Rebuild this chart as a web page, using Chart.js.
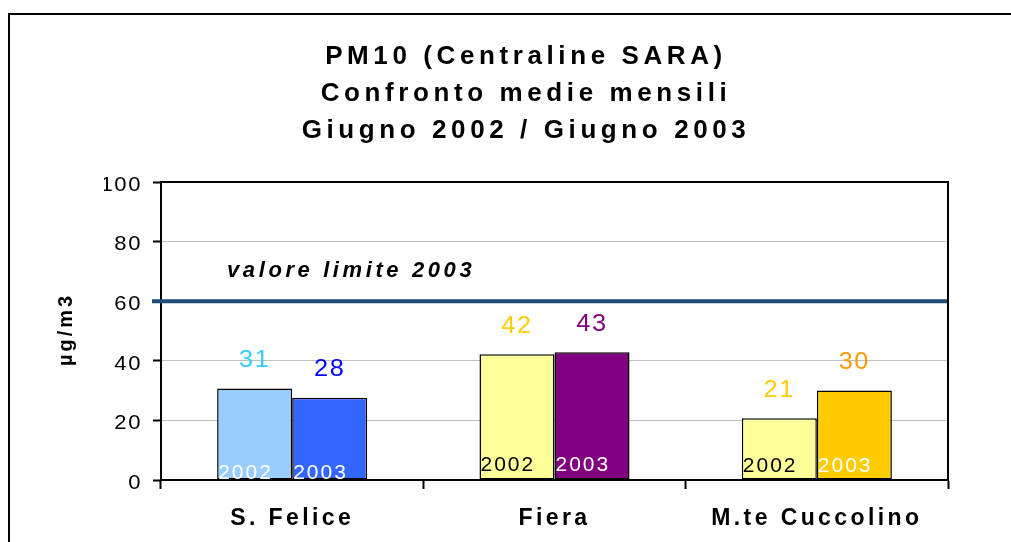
<!DOCTYPE html>
<html>
<head>
<meta charset="utf-8">
<title>PM10 Centraline SARA</title>
<script src="https://cdn.jsdelivr.net/npm/chart.js@4.4.0/dist/chart.umd.min.js"></script>
<style>
  body { margin: 0; background: #fff; }
  #box { width: 1011px; height: 542px; }
</style>
</head>
<body>
<div id="box"><canvas id="pm10" width="1011" height="542"></canvas></div>
<script>
// values
var categories = ['S. Felice', 'Fiera', 'M.te Cuccolino'];
var years = ['2002', '2003'];
var values2002 = [30.7, 42.2, 20.7];
var values2003 = [27.6, 42.9, 30.0];
var limitValue = 60;
var limitLabel = 'valore limite 2003';
var chartTitle = ['PM10 (Centraline SARA)', 'Confronto medie mensili', 'Giugno 2002 / Giugno 2003'];
var yLabel = 'µg/m3';
var yMin = 0, yMax = 100, yStep = 20;

// colours
var fill2002 = ['#99CCFF', '#FFFF99', '#FFFF99'];
var fill2003 = ['#3366FF', '#800080', '#FFCC00'];
var valueColors = [['#33CCFF', '#FFCC00', '#FFCC00'], ['#0000FF', '#800080', '#FF9900']];
var yearColors = [['#FFFFFF', '#000000', '#000000'], ['#FFFFFF', '#FFFFFF', '#FFFFFF']];
var yearLift = [1, 9, 8];

var FONT = '"Liberation Sans", Arial, sans-serif';
var plainFill = CanvasRenderingContext2D.prototype.fillText;

// Excel text is spaced out - keyed by font size of the chart.js texts
var textLook = {
  26: {sx: 1, ls: 4.6, dy: 0},     // title
  21: {sx: 1.05, ls: 1.5, dy: 3},  // y ticks
  23: {sx: 1, ls: 3.4, dy: 0}      // category labels
};

function wideText(ctx, text, x, y, sx, ls) {
  ctx.save();
  ctx.letterSpacing = ls + 'px';
  ctx.translate(x, y);
  ctx.scale(sx, 1);
  plainFill.call(ctx, text, 0, 0);
  ctx.restore();
}

// letterSpacing misbehaves on rotated text, so space the letters by hand
function spacedChars(ctx, text, ls) {
  var chars = Array.from(text);
  var widths = chars.map(function(ch) { return ctx.measureText(ch).width; });
  var total = widths.reduce(function(a, b) { return a + b; }, 0) + ls * (chars.length - 1);
  var x = -total / 2;
  ctx.textAlign = 'left';
  chars.forEach(function(ch, i) {
    plainFill.call(ctx, ch, x, 0);
    x += widths[i] + ls;
  });
}

var excelLook = {
  id: 'excelLook',
  beforeDraw: function(chart) {
    var ctx = chart.ctx;
    if (ctx.patched) return;
    ctx.patched = true;
    ctx.fillText = function(text, x, y) {
      var m = /([\d.]+)px/.exec(this.font);
      var look = textLook[m ? Math.round(parseFloat(m[1])) : 0] || {sx: 1, ls: 0, dy: 0};
      wideText(this, text, x, y + look.dy, look.sx, look.ls);
    };
  },
  afterDatasetsDraw: function(chart) {
    var ctx = chart.ctx, area = chart.chartArea;
    var ly = chart.scales.y.getPixelForValue(limitValue);
    ctx.save();
    // limit line + its label
    ctx.strokeStyle = '#1F4E79';
    ctx.lineWidth = 4;
    ctx.beginPath();
    ctx.moveTo(area.left - 9, ly);
    ctx.lineTo(area.right, ly);
    ctx.stroke();
    ctx.fillStyle = '#000';
    ctx.font = 'italic bold 22px ' + FONT;
    ctx.textAlign = 'left';
    ctx.textBaseline = 'alphabetic';
    wideText(ctx, limitLabel, area.left + 66, ly - 24, 1, 3.6);
    // top and right edge of the plot area
    ctx.strokeStyle = '#000';
    ctx.lineWidth = 2;
    ctx.beginPath();
    ctx.moveTo(area.left, area.top);
    ctx.lineTo(area.right, area.top);
    ctx.lineTo(area.right, area.bottom);
    ctx.stroke();
    // y axis title
    ctx.save();
    ctx.letterSpacing = '0px';
    ctx.font = 'bold 20px ' + FONT;
    ctx.textBaseline = 'middle';
    ctx.translate(66, (area.top + area.bottom) / 2);
    ctx.rotate(-Math.PI / 2);
    spacedChars(ctx, yLabel, 3);
    ctx.restore();
    // value above each bar, year at its foot
    chart.data.datasets.forEach(function(ds, di) {
      chart.getDatasetMeta(di).data.forEach(function(bar, i) {
        var p = bar.getProps(['x', 'y', 'base', 'width'], true);
        ctx.font = '23px ' + FONT;
        ctx.textAlign = 'center';
        ctx.textBaseline = 'middle';
        ctx.fillStyle = valueColors[di][i];
        wideText(ctx, String(Math.round(ds.data[i])), p.x, p.y - 28, 1.1, 1.5);
        ctx.font = '21px ' + FONT;
        ctx.textAlign = 'left';
        ctx.textBaseline = 'alphabetic';
        ctx.fillStyle = yearColors[di][i];
        wideText(ctx, ds.label, p.x - p.width / 2 + 1, p.base - yearLift[i], 1, 2);
      });
    });
    ctx.restore();
  },
  afterDraw: function(chart) {
    // outer frame, runs off the right and bottom of the picture
    var ctx = chart.ctx;
    ctx.save();
    ctx.strokeStyle = '#000';
    ctx.lineWidth = 2;
    ctx.strokeRect(9, 14, 1200, 800);
    ctx.restore();
  }
};

new Chart(document.getElementById('pm10'), {
  type: 'bar',
  data: {
    labels: categories,
    datasets: [{
      label: years[0],
      data: values2002,
      backgroundColor: fill2002,
      borderColor: '#000',
      borderWidth: 1.5,
      borderSkipped: false,
      categoryPercentage: 0.572,
      barPercentage: 1
    }, {
      label: years[1],
      data: values2003,
      backgroundColor: fill2003,
      borderColor: '#000',
      borderWidth: 1.5,
      borderSkipped: false,
      categoryPercentage: 0.572,
      barPercentage: 1
    }]
  },
  options: {
    responsive: false,
    animation: false,
    layout: { padding: { left: 104, right: 63, top: 0, bottom: 0 } },
    plugins: {
      legend: { display: false },
      tooltip: { enabled: false },
      title: {
        display: true,
        text: chartTitle,
        color: '#000',
        font: { family: FONT, size: 26, weight: 'bold', lineHeight: 37 / 26 },
        padding: { top: 38, bottom: 33 }
      }
    },
    scales: {
      x: {
        offset: true,
        grid: { offset: true, drawOnChartArea: false, tickLength: 9, tickColor: '#000', tickWidth: 2 },
        border: { color: '#000', width: 2 },
        ticks: { color: '#000', font: { family: FONT, size: 23, weight: 'bold' }, padding: 16 },
        afterFit: function(s) { s.height = 62; }
      },
      y: {
        min: yMin,
        max: yMax,
        ticks: { stepSize: yStep, color: '#000', font: { family: FONT, size: 21 }, padding: 11 },
        grid: {
          color: function(c) {
            return (c.tick.value === yMin || c.tick.value === yMax) ? 'rgba(0,0,0,0)' : '#C0C0C0';
          },
          tickColor: '#000',
          tickLength: 8,
          tickWidth: 2,
          lineWidth: 1
        },
        border: { color: '#000', width: 2 },
        afterFit: function(s) { s.width = 57; }
      }
    }
  },
  plugins: [excelLook]
});
</script>
</body>
</html>
